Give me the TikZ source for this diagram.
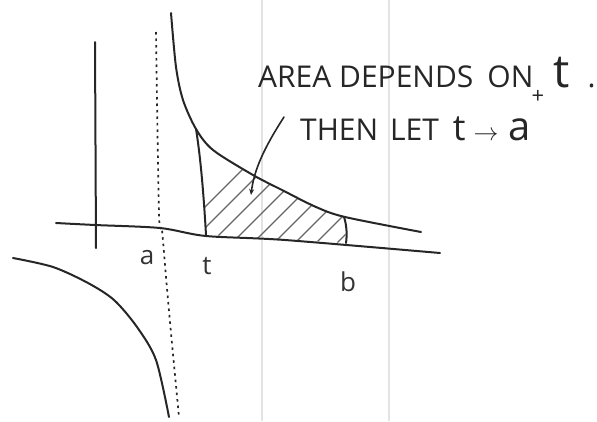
\documentclass[tikz,border=0pt]{standalone}
\usepackage{fontspec}
\setmainfont{Open Sans}
\usetikzlibrary{arrows.meta}

\begin{document}
\begin{tikzpicture}[x=1pt,y=-1pt,
  ink/.style={line width=2pt,black!85,line cap=round,line join=round},
  hatch/.style={line width=1.3pt,black!60,line cap=round},
  hand/.style={font=\fontsize{30}{34}\selectfont,text=black!85,inner sep=0pt,anchor=base west},
  lbl/.style={font=\fontsize{26}{30}\selectfont,text=black!80,inner sep=0pt}]
\useasboundingbox (0,0) rectangle (597,421);
% ruled lines of the paper
\draw[gray!22,line width=1.2pt] (262,0) -- (262,421);
\draw[gray!22,line width=1.2pt] (389,0) -- (389,421);

% hatched area from t to b
\begin{scope}
\clip plot[smooth] coordinates {(196,129) (213,150) (253,175) (282,190) (316,207) (345,217)}
  -- (346,243) -- (206,235) .. controls (204,200) and (201,160) .. (196,129);
\foreach \i in {0,...,12}
  \draw[hatch] (150+\i*21,262) -- ++(100,-100);
\end{scope}

% axes
\draw[ink] (95,42) -- (96,248);
\draw[ink] plot[smooth] coordinates {(56,223) (95,225) (160,228) (206,236) (285,240) (440,253)};
% asymptote x = a
\draw[ink,line width=1.7pt,line cap=butt,dash pattern=on 2.5pt off 4pt] plot[smooth] coordinates {(156,32) (159,213) (162,230) (166,277) (171,333) (179,417)};

% the curve, both branches
\draw[ink] plot[smooth] coordinates {(171,13) (176,67) (183,100) (196,129) (213,150) (253,175) (282,190) (316,207) (345,217) (421,232)};
\draw[ink] plot[smooth] coordinates {(13,258) (53,267) (88,283) (114,300) (137,327) (156,360) (169,417)};

% limits of the area
\draw[ink] (196,129) .. controls (201,160) and (204,200) .. (206,235);
\draw[ink] (344,217) .. controls (347,226) and (347,236) .. (346,243);

% labels
\node[lbl] (la) at (147,258) {a};
\node[lbl] (lt) at (207,266) {t};
\node[lbl] (lb) at (348,282) {b};

\node[hand] (area) at (258,87) {AREA DEPENDS\hspace{14pt}ON\hspace{20pt}{\fontsize{46}{50}\selectfont t}\hspace{18pt}.};
\node[hand] (then) at (300,140) {THEN\hspace{4pt} LET\hspace{14pt}{\fontsize{36}{40}\selectfont t}\hspace{8pt}{\fontsize{36}{40}\selectfont$\rightarrow$}\hspace{10pt}{\fontsize{40}{44}\selectfont a}\hspace{1pt}\raisebox{37pt}{\fontsize{22}{24}\selectfont +}};

\coordinate (arrowtail) at (284,117);
\coordinate (arrowtip) at (251,195);
\draw[ink,line width=1.6pt,-{Stealth[length=6pt,width=5pt]}] (arrowtail) .. controls (264,148) and (254,170) .. (arrowtip);
\end{tikzpicture}
\end{document}
